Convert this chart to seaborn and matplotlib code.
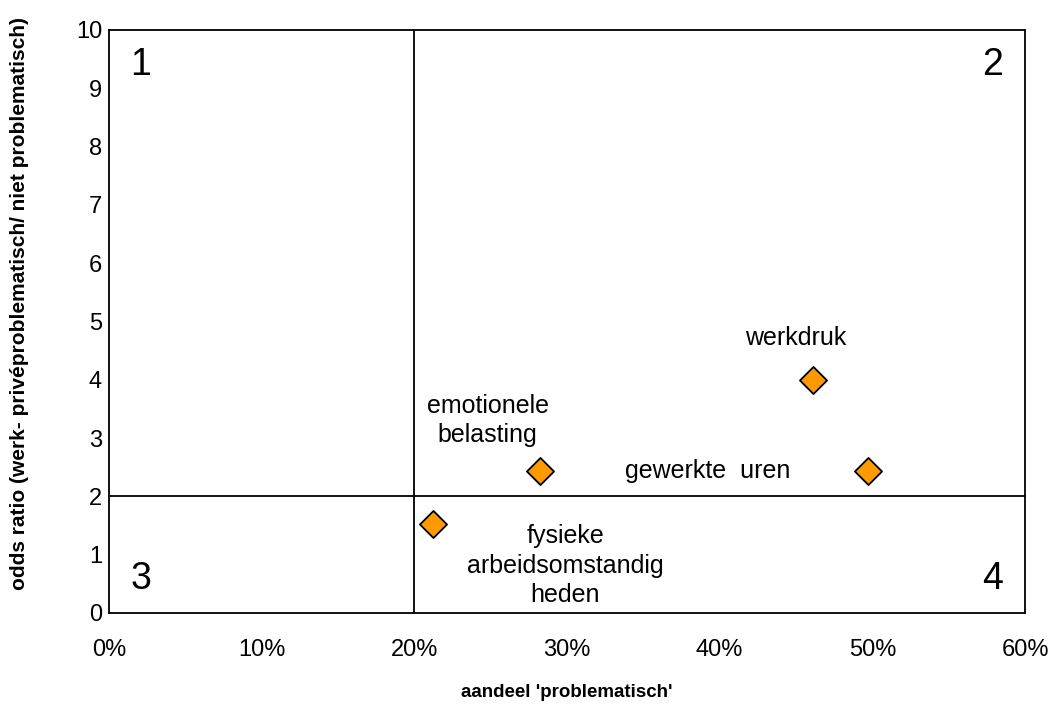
import pandas as pd
import matplotlib
matplotlib.use("Agg")
import matplotlib.pyplot as plt
import seaborn as sns
from matplotlib.ticker import PercentFormatter

sns.set_style("white")
plt.rcParams["font.family"] = ["Liberation Sans", "DejaVu Sans"]
plt.rcParams["text.color"] = "black"
plt.rcParams["axes.labelcolor"] = "black"
plt.rcParams["xtick.color"] = "black"
plt.rcParams["ytick.color"] = "black"

# data
labels = ["werkdruk", "emotionele\nbelasting", "gewerkte  uren",
          "fysieke\narbeidsomstandig\nheden"]
share = [0.461, 0.282, 0.497, 0.212]
odds = [4.0, 2.43, 2.43, 1.53]
# label offsets (in data units) relative to each point
label_dx = [-0.011, -0.034, -0.105, 0.087]
label_dy = [0.72, 0.87, 0.0, -0.72]

x_split = 0.20
y_split = 2
quadrants = ["1", "2", "3", "4"]

df = pd.DataFrame({"label": labels, "share": share, "odds": odds})

fig = plt.figure(figsize=(10.54, 7.04), dpi=100)
ax = fig.add_axes([0.1034, 0.1293, 0.8691, 0.8281])

sns.scatterplot(data=df, x="share", y="odds", marker="D", s=190,
                color="#FF9900", edgecolor="black", linewidth=1.3,
                ax=ax, zorder=3)

ax.axvline(x_split, color="black", lw=1.3)
ax.axhline(y_split, color="black", lw=1.3)

for lab, x, y, dx, dy in zip(labels, share, odds, label_dx, label_dy):
    ax.text(x + dx, y + dy, lab, ha="center", va="center", fontsize=18,
            linespacing=1.3)

# quadrant numbers
qpos = [(0.035, 0.94), (0.965, 0.94), (0.035, 0.058), (0.965, 0.058)]
for q, (qx, qy) in zip(quadrants, qpos):
    ax.text(qx, qy, q, transform=ax.transAxes, fontsize=27,
            ha="center", va="center")

ax.set_xlim(0, 0.6)
ax.set_ylim(0, 10)
ax.set_xticks([0, 0.1, 0.2, 0.3, 0.4, 0.5, 0.6])
ax.set_yticks(range(0, 11))
ax.xaxis.set_major_formatter(PercentFormatter(1.0, decimals=0))
ax.tick_params(axis="both", labelsize=17, length=0)
ax.tick_params(axis="x", pad=19)
ax.tick_params(axis="y", pad=5)

for s in ax.spines.values():
    s.set_color("black")
    s.set_linewidth(1.3)

ax.set_xlabel("aandeel 'problematisch'", fontsize=13.5, fontweight="bold",
              labelpad=16)
ax.set_ylabel("odds ratio (werk- privéproblematisch/ niet problematisch)",
              fontsize=15, fontweight="bold")
ax.yaxis.set_label_coords(-0.087, 0.53)

fig.savefig("out.png", dpi=100)
